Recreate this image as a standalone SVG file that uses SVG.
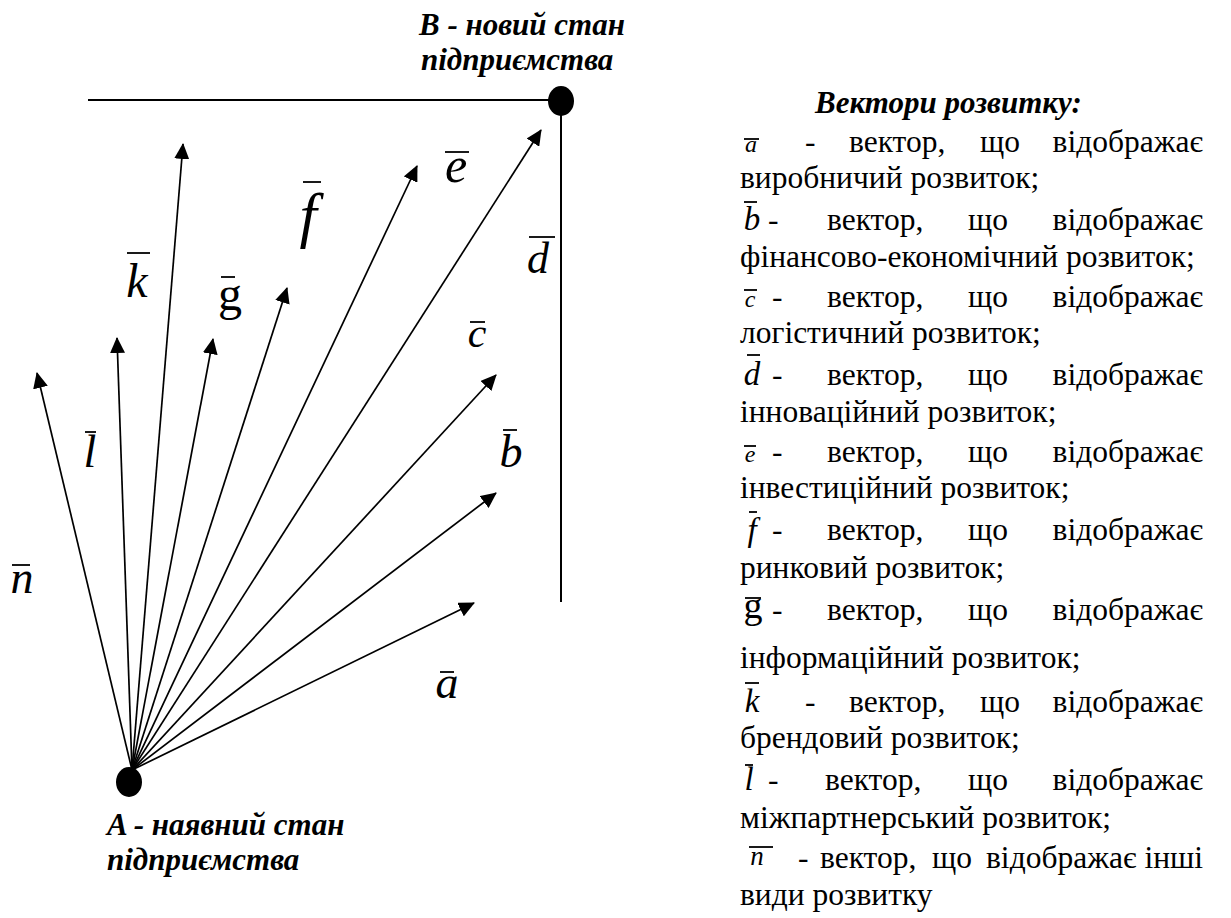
<svg xmlns="http://www.w3.org/2000/svg" width="1231" height="918" viewBox="0 0 1231 918">
<style>
text{font-family:"Liberation Serif","Times New Roman",serif;fill:#000}
.lg{font-size:31.5px}
.hd{font-weight:bold;font-style:italic;font-size:31px}
.m{font-style:italic}
.bar{stroke:#000;stroke-width:1.8}
.arr{stroke:#000;stroke-width:1.7;fill:none;marker-end:url(#ah)}
.ln{stroke:#000;stroke-width:2;fill:none}
</style>
<defs>
<marker id="ah" markerUnits="userSpaceOnUse" markerWidth="16" markerHeight="15" refX="15" refY="7.5" orient="auto">
<path d="M0,0 L16,7.5 L0,15 z" fill="#000"/>
</marker>
</defs>
<rect width="1231" height="918" fill="#fff"/>

<g id="connectors">
<line class="ln" x1="88" y1="100" x2="556" y2="100"/>
<line class="ln" x1="561" y1="110" x2="561" y2="602"/>
<line class="arr" x1="132" y1="770" x2="37" y2="373"/>
<line class="arr" x1="132" y1="770" x2="117" y2="338"/>
<line class="arr" x1="132" y1="770" x2="183" y2="144"/>
<line class="arr" x1="132" y1="770" x2="213" y2="339"/>
<line class="arr" x1="132" y1="770" x2="287" y2="288"/>
<line class="arr" x1="132" y1="770" x2="417" y2="166"/>
<line class="arr" x1="132" y1="770" x2="541" y2="130"/>
<line class="arr" x1="132" y1="770" x2="496" y2="375"/>
<line class="arr" x1="132" y1="770" x2="496" y2="493"/>
<line class="arr" x1="132" y1="770" x2="474" y2="603"/>
</g>

<g id="vector-labels">
<text class="m" x="22" y="593" font-size="46" text-anchor="middle">n</text><line class="bar" x1="12" y1="565" x2="30" y2="565"/>
<text class="m" x="90" y="467" font-size="46" text-anchor="middle">l</text><line class="bar" x1="85" y1="432" x2="96" y2="432"/>
<text class="m" x="137" y="297" font-size="48" text-anchor="middle">k</text><line class="bar" x1="127" y1="253" x2="150" y2="253"/>
<text x="230" y="310" font-size="48" text-anchor="middle">g</text><line class="bar" x1="221" y1="277" x2="235" y2="277"/>
<text class="m" x="308" y="236" font-size="62" text-anchor="middle">f</text><line class="bar" x1="303" y1="182" x2="321" y2="182"/>
<text class="m" x="456" y="182" font-size="50" text-anchor="middle">e</text><line class="bar" x1="445" y1="152" x2="469" y2="152"/>
<text class="m" x="538" y="273" font-size="44" text-anchor="middle">d</text><line class="bar" x1="529" y1="237" x2="555" y2="237"/>
<text class="m" x="477" y="347" font-size="42" text-anchor="middle">c</text><line class="bar" x1="470" y1="322" x2="485" y2="322"/>
<text class="m" x="511" y="467" font-size="46" text-anchor="middle">b</text><line class="bar" x1="503" y1="430" x2="517" y2="430"/>
<text class="m" x="447" y="698" font-size="46" text-anchor="middle">a</text><line class="bar" x1="440" y1="672" x2="454" y2="672"/>
</g>

<g id="node-A">
<ellipse cx="129" cy="782" rx="13" ry="15" fill="#000"/>
<text class="hd" x="107" y="835">A - наявний стан</text>
<text class="hd" x="107" y="870">підприємства</text>
</g>

<g id="node-B">
<ellipse cx="561" cy="101" rx="13" ry="15" fill="#000"/>
<text class="hd" x="419" y="35">B - новий стан</text>
<text class="hd" x="421" y="70">підприємства</text>
</g>

<g id="legend" class="lg">
<text class="hd" x="815" y="113" font-size="30.5">Вектори розвитку:</text>

<text class="m" x="751" y="152" font-size="24" text-anchor="middle">a</text><line class="bar" x1="744" y1="139" x2="759" y2="139"/>
<text x="805" y="152">-</text><text x="849" y="152">вектор,</text><text x="980" y="152">що</text><text x="1203" y="152" text-anchor="end">відображає</text>
<text x="740" y="188">виробничий розвиток;</text>

<text class="m" x="752" y="230" font-size="33" text-anchor="middle">b</text><line class="bar" x1="744" y1="202" x2="757" y2="202"/>
<text x="768" y="230">-</text><text x="827" y="230">вектор,</text><text x="968" y="230">що</text><text x="1203" y="230" text-anchor="end">відображає</text>
<text x="740" y="267">фінансово-економічний розвиток;</text>

<text class="m" x="750" y="307" font-size="24" text-anchor="middle">c</text><line class="bar" x1="744" y1="290" x2="757" y2="290"/>
<text x="772" y="307">-</text><text x="827" y="307">вектор,</text><text x="968" y="307">що</text><text x="1203" y="307" text-anchor="end">відображає</text>
<text x="740" y="343">логістичний розвиток;</text>

<text class="m" x="752" y="385" font-size="33" text-anchor="middle">d</text><line class="bar" x1="747" y1="355" x2="760" y2="355"/>
<text x="772" y="385">-</text><text x="827" y="385">вектор,</text><text x="968" y="385">що</text><text x="1203" y="385" text-anchor="end">відображає</text>
<text x="740" y="422">інноваційний розвиток;</text>

<text class="m" x="750" y="462" font-size="24" text-anchor="middle">e</text><line class="bar" x1="744" y1="446" x2="756" y2="446"/>
<text x="772" y="462">-</text><text x="827" y="462">вектор,</text><text x="968" y="462">що</text><text x="1203" y="462" text-anchor="end">відображає</text>
<text x="740" y="498">інвестиційний розвиток;</text>

<text class="m" x="752" y="541" font-size="33" text-anchor="middle">f</text><line class="bar" x1="749" y1="512" x2="757" y2="512"/>
<text x="772" y="540">-</text><text x="827" y="540">вектор,</text><text x="968" y="540">що</text><text x="1203" y="540" text-anchor="end">відображає</text>
<text x="740" y="578">ринковий розвиток;</text>

<text x="753" y="618" font-size="38" text-anchor="middle">g</text><line class="bar" x1="745" y1="598" x2="761" y2="598"/>
<text x="772" y="620">-</text><text x="827" y="620">вектор,</text><text x="968" y="620">що</text><text x="1203" y="620" text-anchor="end">відображає</text>
<text x="740" y="668">інформаційний розвиток;</text>

<text class="m" x="752" y="712" font-size="33" text-anchor="middle">k</text><line class="bar" x1="745" y1="683" x2="759" y2="683"/>
<text x="805" y="712">-</text><text x="849" y="712">вектор,</text><text x="980" y="712">що</text><text x="1203" y="712" text-anchor="end">відображає</text>
<text x="740" y="748">брендовий розвиток;</text>

<text class="m" x="749" y="790" font-size="33" text-anchor="middle">l</text><line class="bar" x1="745" y1="765" x2="753" y2="765"/>
<text x="768" y="790">-</text><text x="825" y="790">вектор,</text><text x="968" y="790">що</text><text x="1203" y="790" text-anchor="end">відображає</text>
<text x="740" y="828">міжпартнерський розвиток;</text>

<text class="m" x="757" y="865" font-size="27" text-anchor="middle">n</text><line class="bar" x1="749" y1="847" x2="773" y2="847"/>
<text x="798" y="868">-</text><text x="820" y="868">вектор,</text><text x="932" y="868">що</text><text x="986" y="868">відображає</text><text x="1203" y="868" text-anchor="end">інші</text>
<text x="740" y="905">види розвитку</text>
</g>
</svg>
